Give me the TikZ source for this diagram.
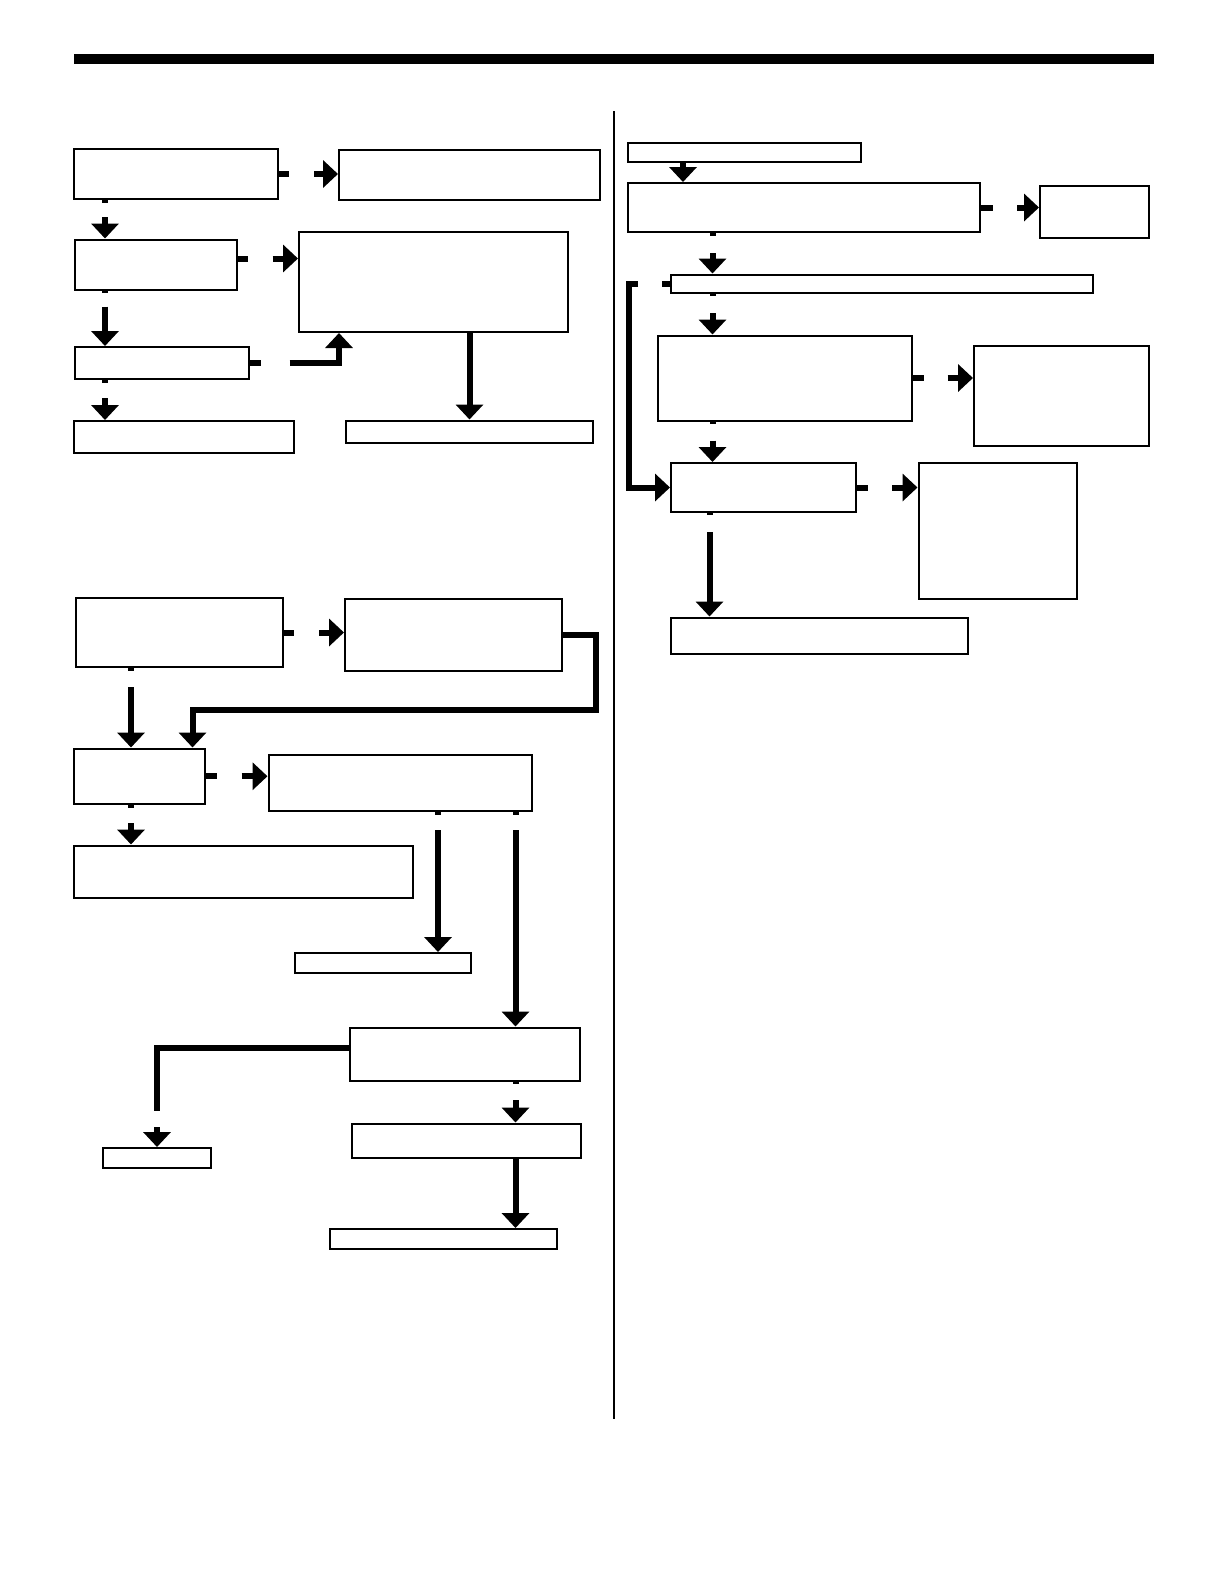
\documentclass[tikz,border=0pt]{standalone}
\usetikzlibrary{arrows.meta}
\begin{document}
\begin{tikzpicture}[
  x=1pt, y=-1pt,
  box/.style={draw, line width=2pt, inner sep=0pt},
  stub/.style={line width=6pt},
  arrow/.style={line width=6pt, -{Triangle[width=27pt,length=15pt]}},
  rule/.style={line width=10pt}
]
\useasboundingbox (0,0) rectangle (1225,1585);
\draw[rule] (74,59) -- (1154,59);
\draw[line width=2.5pt] (614,111) -- (614,1419);

% upper left chart
\node[box, minimum width=204.5pt, minimum height=50pt] (a1) at (175.75,174) {};
\node[box, minimum width=261pt, minimum height=50pt] (b1) at (469.5,175) {};
\node[box, minimum width=162pt, minimum height=50pt] (a2) at (155.5,264.5) {};
\node[box, minimum width=269pt, minimum height=100pt] (b2) at (433.5,282) {};
\node[box, minimum width=174pt, minimum height=32pt] (a3) at (161.5,363) {};
\node[box, minimum width=220.5pt, minimum height=32pt] (a4) at (183.75,437) {};
\node[box, minimum width=247pt, minimum height=22.5pt] (b3) at (469.5,431.75) {};

\coordinate (colA) at (105,0);
\coordinate (a2out) at ([yshift=6pt]a2.east);
\coordinate (b2in) at ([xshift=41pt]b2.south west);

\draw[stub] (a1.east) -- ++(10,0);
\draw[arrow] (a1.east) ++(35,0) -- (a1.east -| b1.west);
\draw[stub] (a1.south -| colA) -- ++(0,3);
\draw[arrow] (a1.south -| colA) ++(0,17) -- (a2.north -| colA);
\draw[stub] (a2out) -- ++(10,0);
\draw[arrow] (a2out) ++(35,0) -- (a2out -| b2.west);
\draw[stub] (a2.south -| colA) -- ++(0,2);
\draw[arrow] (a2.south -| colA) ++(0,16) -- (a3.north -| colA);
\draw[stub] (a3.east) -- ++(11,0);
\draw[arrow] (a3.east) ++(40,0) -| (b2in);
\draw[stub] (a3.south -| colA) -- ++(0,3);
\draw[arrow] (a3.south -| colA) ++(0,18) -- (a4.north -| colA);
\draw[arrow] (b2.south -| b3.north) -- (b3.north);

% lower left chart
\node[box, minimum width=207pt, minimum height=69pt] (c1) at (179.5,632.5) {};
\node[box, minimum width=217pt, minimum height=72pt] (d1) at (453.5,635) {};
\node[box, minimum width=130.5pt, minimum height=55.5pt] (c2) at (139.25,776.25) {};
\node[box, minimum width=263.5pt, minimum height=56pt] (e1) at (400.25,783) {};
\node[box, minimum width=339pt, minimum height=52.5pt] (c3) at (243.5,871.75) {};
\node[box, minimum width=176pt, minimum height=19.5pt] (f) at (383,962.75) {};
\node[box, minimum width=229.5pt, minimum height=53.5pt] (g) at (464.75,1054.25) {};
\node[box, minimum width=107.5pt, minimum height=19.5pt] (h) at (156.75,1157.75) {};
\node[box, minimum width=229.5pt, minimum height=34.5pt] (i) at (466.25,1140.75) {};
\node[box, minimum width=227pt, minimum height=19.5pt] (j) at (443.5,1238.75) {};

\coordinate (colC) at (131,0);
\coordinate (c2in) at (192.5,0);
\coordinate (colF) at (438,0);
\coordinate (colG) at (515.5,0);
\coordinate (colH) at (157,0);
\coordinate (gout) at ([yshift=6pt]g.west);

\draw[stub] (c1.east) -- ++(10,0);
\draw[arrow] (c1.east) ++(35,0) -- (c1.east -| d1.west);
\draw[stub] (c1.south -| colC) -- ++(0,3);
\draw[arrow] (c1.south -| colC) ++(0,19) -- (c2.north -| colC);
\draw[arrow] (d1.east) -| ++(33,75) -| (c2.north -| c2in);
\draw[stub] (c2.east) -- ++(11,0);
\draw[arrow] (c2.east) ++(36,0) -- (c2.east -| e1.west);
\draw[stub] (c2.south -| colC) -- ++(0,3);
\draw[arrow] (c2.south -| colC) ++(0,18) -- (c3.north -| colC);
\draw[stub] (e1.south -| colF) -- ++(0,3);
\draw[arrow] (e1.south -| colF) ++(0,18) -- (f.north -| colF);
\draw[stub] (e1.south -| colG) -- ++(0,3);
\draw[arrow] (e1.south -| colG) ++(0,18) -- (g.north -| colG);
\draw[stub] (gout) -| ++(-192,63);
\draw[arrow] (h.north -| colH) ++(0,-20) -- (h.north -| colH);
\draw[stub] (g.south -| colG) -- ++(0,2);
\draw[arrow] (g.south -| colG) ++(0,18) -- (i.north -| colG);
\draw[arrow] (i.south -| colG) -- (j.north -| colG);

% right chart
\node[box, minimum width=233pt, minimum height=19pt] (k) at (744.5,152.5) {};
\node[box, minimum width=352pt, minimum height=49pt] (l) at (804,207.5) {};
\node[box, minimum width=109pt, minimum height=51.5pt] (m) at (1094.5,211.75) {};
\node[box, minimum width=422pt, minimum height=18.5pt] (n) at (882,283.75) {};
\node[box, minimum width=253.5pt, minimum height=85pt] (o) at (784.75,378) {};
\node[box, minimum width=175pt, minimum height=100pt] (q) at (1061.5,395.5) {};
\node[box, minimum width=185pt, minimum height=49pt] (p) at (763.5,487.5) {};
\node[box, minimum width=158pt, minimum height=136pt] (r) at (997.5,531) {};
\node[box, minimum width=297pt, minimum height=36.5pt] (s) at (819.5,635.75) {};

\coordinate (colK) at (683,0);
\coordinate (colR) at (712.5,0);
\coordinate (colS) at (709.5,0);

\draw[arrow] (k.south -| colK) -- (l.north -| colK);
\draw[stub] (l.east) -- ++(12,0);
\draw[arrow] (l.east) ++(36,0) -- (l.east -| m.west);
\draw[stub] (l.south -| colR) -- ++(0,3);
\draw[arrow] (l.south -| colR) ++(0,20) -- (n.north -| colR);
\draw[stub] (n.south -| colR) -- ++(0,2);
\draw[arrow] (n.south -| colR) ++(0,19) -- (o.north -| colR);
\draw[stub] (n.west) -- ++(-8,0);
\draw[arrow] (n.west) ++(-32,0) -- ++(-9,0) |- (p.west);
\draw[stub] (o.east) -- ++(11,0);
\draw[arrow] (o.east) ++(35,0) -- (o.east -| q.west);
\draw[stub] (o.south -| colR) -- ++(0,2);
\draw[arrow] (o.south -| colR) ++(0,19) -- (p.north -| colR);
\draw[stub] (p.east) -- ++(11,0);
\draw[arrow] (p.east) ++(35,0) -- (p.east -| r.west);
\draw[stub] (p.south -| colS) -- ++(0,2);
\draw[arrow] (p.south -| colS) ++(0,19) -- (s.north -| colS);
\end{tikzpicture}
\end{document}
